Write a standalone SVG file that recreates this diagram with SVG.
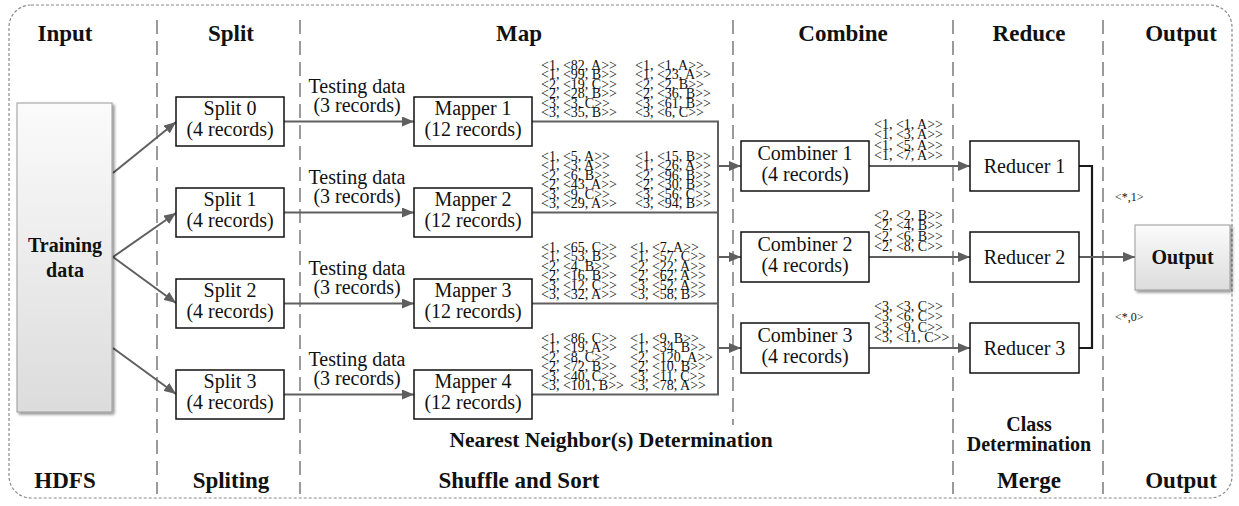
<svg xmlns="http://www.w3.org/2000/svg" width="1239" height="506" viewBox="0 0 1239 506">
  <defs>
    <linearGradient id="gfill" x1="0" y1="0" x2="0" y2="1">
      <stop offset="0" stop-color="#fbfbfb"/>
      <stop offset="1" stop-color="#dcdcdc"/>
    </linearGradient>
    <filter id="shadow" x="-20%" y="-20%" width="140%" height="140%">
      <feGaussianBlur in="SourceAlpha" stdDeviation="1.5"/>
      <feOffset dx="2" dy="2" result="b"/>
      <feComponentTransfer><feFuncA type="linear" slope="0.45"/></feComponentTransfer>
      <feMerge><feMergeNode/><feMergeNode in="SourceGraphic"/></feMerge>
    </filter>
    <marker id="arr" viewBox="0 0 12 10" refX="12" refY="5" markerWidth="12" markerHeight="10" markerUnits="userSpaceOnUse" orient="auto">
      <path d="M0,0 L12,5 L0,10 Z" fill="#5f5f5f"/>
    </marker>
  </defs>
  <style>
    text { font-family: "Liberation Serif", "Times New Roman", serif; fill: #111; }
    .hd { font-size: 23px; font-weight: bold; text-anchor: middle; }
    .sub { font-size: 20px; font-weight: bold; text-anchor: middle; }
    .wide { font-size: 21.5px; }
    .lbl { font-size: 20px; text-anchor: middle; }
    .kv { font-size: 14px; }
    .tiny { font-size: 12px; }
    .box { fill: #fff; stroke: #111; stroke-width: 1.5; }
    .gbox { fill: url(#gfill); stroke: #9a9a9a; stroke-width: 1; filter: url(#shadow); }
    .sep { stroke: #666; stroke-width: 1.3; stroke-dasharray: 14 7; fill: none; }
    .con { stroke: #5f5f5f; stroke-width: 2; fill: none; }
    .arrow { stroke: #5f5f5f; stroke-width: 2; fill: none; marker-end: url(#arr); }
    .dark { stroke: #1a1a1a; stroke-width: 2.2; fill: none; }
  </style>

  <!-- frame -->
  <rect x="9" y="5" width="1223" height="493" rx="22" ry="22" fill="none" stroke="#8a8a8a" stroke-width="1.2" stroke-dasharray="3 2"/>

  <!-- stage separators -->
  <g id="separators">
    <line class="sep" x1="157" y1="20" x2="157" y2="494"/>
    <line class="sep" x1="300" y1="20" x2="300" y2="494"/>
    <line class="sep" x1="733" y1="20" x2="733" y2="425"/>
    <line class="sep" x1="953" y1="20" x2="953" y2="494"/>
    <line class="sep" x1="1103" y1="20" x2="1103" y2="494"/>
  </g>

  <!-- stage titles -->
  <g id="titles">
    <text class="hd" x="65" y="41">Input</text>
    <text class="hd" x="231" y="41">Split</text>
    <text class="hd" x="519" y="41">Map</text>
    <text class="hd" x="843" y="41">Combine</text>
    <text class="hd" x="1029" y="41">Reduce</text>
    <text class="hd" x="1181" y="41">Output</text>
    <text class="hd" x="65" y="488">HDFS</text>
    <text class="hd" x="231" y="488">Spliting</text>
    <text class="hd" x="519" y="488">Shuffle and Sort</text>
    <text class="hd" x="1029" y="488">Merge</text>
    <text class="hd" x="1181" y="488">Output</text>
    <text class="sub wide" x="611" y="447">Nearest Neighbor(s) Determination</text>
    <text class="sub" x="1029" y="431">Class</text>
    <text class="sub" x="1029" y="451">Determination</text>
  </g>

  <!-- connectors -->
  <g id="connectors">
    <line class="arrow" x1="113" y1="173" x2="176" y2="122"/>
    <line class="arrow" x1="113" y1="257" x2="176" y2="213"/>
    <line class="arrow" x1="113" y1="257" x2="176" y2="303"/>
    <line class="arrow" x1="113" y1="348" x2="176" y2="394"/>

    <line class="arrow" x1="284" y1="121.5" x2="414" y2="121.5"/>
    <line class="arrow" x1="284" y1="212.5" x2="414" y2="212.5"/>
    <line class="arrow" x1="284" y1="303.5" x2="414" y2="303.5"/>
    <line class="arrow" x1="284" y1="394.5" x2="414" y2="394.5"/>

    <polyline class="con" points="532,121.5 718,121.5 718,394.5 532,394.5"/>
    <line class="con" x1="532" y1="212.5" x2="718" y2="212.5"/>
    <line class="con" x1="532" y1="303.5" x2="718" y2="303.5"/>
    <line class="arrow" x1="718" y1="166" x2="741" y2="166"/>
    <line class="arrow" x1="718" y1="257" x2="741" y2="257"/>
    <line class="arrow" x1="718" y1="348" x2="741" y2="348"/>

    <line class="arrow" x1="869" y1="166" x2="970" y2="166"/>
    <line class="arrow" x1="869" y1="257" x2="970" y2="257"/>
    <line class="arrow" x1="869" y1="348" x2="970" y2="348"/>

    <polyline class="dark" points="1079,166 1092,166 1092,348 1079,348"/>
    <line class="arrow" x1="1079" y1="257" x2="1135" y2="257"/>
  </g>

  <!-- input -->
  <g id="training-data">
    <rect class="gbox" x="17" y="103" width="95" height="309"/>
    <text class="sub" x="65" y="252">Training</text>
    <text class="sub" x="65" y="277">data</text>
  </g>

  <!-- splits -->
  <g id="split0">
    <rect class="box" x="176" y="97" width="108" height="49"/>
    <text class="lbl" x="230" y="115">Split 0</text>
    <text class="lbl" x="230" y="136">(4 records)</text>
  </g>
  <g id="split1">
    <rect class="box" x="176" y="188" width="108" height="49"/>
    <text class="lbl" x="230" y="206">Split 1</text>
    <text class="lbl" x="230" y="227">(4 records)</text>
  </g>
  <g id="split2">
    <rect class="box" x="176" y="279" width="108" height="49"/>
    <text class="lbl" x="230" y="297">Split 2</text>
    <text class="lbl" x="230" y="318">(4 records)</text>
  </g>
  <g id="split3">
    <rect class="box" x="176" y="370" width="108" height="49"/>
    <text class="lbl" x="230" y="388">Split 3</text>
    <text class="lbl" x="230" y="409">(4 records)</text>
  </g>

  <!-- testing data labels -->
  <g id="testing-labels">
    <text class="lbl" x="357" y="93">Testing data</text>
    <text class="lbl" x="357" y="112">(3 records)</text>
    <text class="lbl" x="357" y="184">Testing data</text>
    <text class="lbl" x="357" y="203">(3 records)</text>
    <text class="lbl" x="357" y="275">Testing data</text>
    <text class="lbl" x="357" y="294">(3 records)</text>
    <text class="lbl" x="357" y="366">Testing data</text>
    <text class="lbl" x="357" y="385">(3 records)</text>
  </g>

  <!-- mappers -->
  <g id="mapper1">
    <rect class="box" x="414" y="97" width="118" height="49"/>
    <text class="lbl" x="473" y="115">Mapper 1</text>
    <text class="lbl" x="473" y="136">(12 records)</text>
  </g>
  <g id="mapper2">
    <rect class="box" x="414" y="188" width="118" height="49"/>
    <text class="lbl" x="473" y="206">Mapper 2</text>
    <text class="lbl" x="473" y="227">(12 records)</text>
  </g>
  <g id="mapper3">
    <rect class="box" x="414" y="279" width="118" height="49"/>
    <text class="lbl" x="473" y="297">Mapper 3</text>
    <text class="lbl" x="473" y="318">(12 records)</text>
  </g>
  <g id="mapper4">
    <rect class="box" x="414" y="370" width="118" height="49"/>
    <text class="lbl" x="473" y="388">Mapper 4</text>
    <text class="lbl" x="473" y="409">(12 records)</text>
  </g>

  <!-- mapper output pairs -->
  <g id="map-out1">
    <text class="kv" x="541" y="70"><tspan x="541" dy="0">&lt;1, &lt;82, A&gt;&gt;</tspan><tspan x="541" dy="9.4">&lt;1, &lt;99, B&gt;&gt;</tspan><tspan x="541" dy="9.4">&lt;2, &lt;19, C&gt;&gt;</tspan><tspan x="541" dy="9.4">&lt;2, &lt;28, B&gt;&gt;</tspan><tspan x="541" dy="9.4">&lt;3, &lt;3, C&gt;&gt;</tspan><tspan x="541" dy="9.4">&lt;3, &lt;35, B&gt;&gt;</tspan></text>
    <text class="kv" x="635" y="70"><tspan x="635" dy="0">&lt;1, &lt;1, A&gt;&gt;</tspan><tspan x="635" dy="9.4">&lt;1, &lt;23, A&gt;&gt;</tspan><tspan x="635" dy="9.4">&lt;2, &lt;2, B&gt;&gt;</tspan><tspan x="635" dy="9.4">&lt;2, &lt;36, B&gt;&gt;</tspan><tspan x="635" dy="9.4">&lt;3, &lt;61, B&gt;&gt;</tspan><tspan x="635" dy="9.4">&lt;3, &lt;6, C&gt;&gt;</tspan></text>
  </g>
  <g id="map-out2">
    <text class="kv" x="541" y="161"><tspan x="541" dy="0">&lt;1, &lt;5, A&gt;&gt;</tspan><tspan x="541" dy="9.4">&lt;1, &lt;3, A&gt;&gt;</tspan><tspan x="541" dy="9.4">&lt;2, &lt;6, B&gt;&gt;</tspan><tspan x="541" dy="9.4">&lt;2, &lt;43, A&gt;&gt;</tspan><tspan x="541" dy="9.4">&lt;3, &lt;9, C&gt;&gt;</tspan><tspan x="541" dy="9.4">&lt;3, &lt;29, A&gt;&gt;</tspan></text>
    <text class="kv" x="635" y="161"><tspan x="635" dy="0">&lt;1, &lt;15, B&gt;&gt;</tspan><tspan x="635" dy="9.4">&lt;1, &lt;26, A&gt;&gt;</tspan><tspan x="635" dy="9.4">&lt;2, &lt;96, B&gt;&gt;</tspan><tspan x="635" dy="9.4">&lt;2, &lt;30, B&gt;&gt;</tspan><tspan x="635" dy="9.4">&lt;3, &lt;56, C&gt;&gt;</tspan><tspan x="635" dy="9.4">&lt;3, &lt;94, B&gt;&gt;</tspan></text>
  </g>
  <g id="map-out3">
    <text class="kv" x="541" y="252"><tspan x="541" dy="0">&lt;1, &lt;65, C&gt;&gt;</tspan><tspan x="541" dy="9.4">&lt;1, &lt;53, B&gt;&gt;</tspan><tspan x="541" dy="9.4">&lt;2, &lt;4, B&gt;&gt;</tspan><tspan x="541" dy="9.4">&lt;2, &lt;16, B&gt;&gt;</tspan><tspan x="541" dy="9.4">&lt;3, &lt;12, C&gt;&gt;</tspan><tspan x="541" dy="9.4">&lt;3, &lt;32, A&gt;&gt;</tspan></text>
    <text class="kv" x="630" y="252"><tspan x="630" dy="0">&lt;1, &lt;7, A&gt;&gt;</tspan><tspan x="630" dy="9.4">&lt;1, &lt;57, C&gt;&gt;</tspan><tspan x="630" dy="9.4">&lt;2, &lt;22, A&gt;&gt;</tspan><tspan x="630" dy="9.4">&lt;2, &lt;62, A&gt;&gt;</tspan><tspan x="630" dy="9.4">&lt;3, &lt;52, A&gt;&gt;</tspan><tspan x="630" dy="9.4">&lt;3, &lt;58, B&gt;&gt;</tspan></text>
  </g>
  <g id="map-out4">
    <text class="kv" x="541" y="343"><tspan x="541" dy="0">&lt;1, &lt;86, C&gt;&gt;</tspan><tspan x="541" dy="9.4">&lt;1, &lt;19, A&gt;&gt;</tspan><tspan x="541" dy="9.4">&lt;2, &lt;8, C&gt;&gt;</tspan><tspan x="541" dy="9.4">&lt;2, &lt;72, B&gt;&gt;</tspan><tspan x="541" dy="9.4">&lt;3, &lt;40, C&gt;&gt;</tspan><tspan x="541" dy="9.4">&lt;3, &lt;101, B&gt;&gt;</tspan></text>
    <text class="kv" x="630" y="343"><tspan x="630" dy="0">&lt;1, &lt;9, B&gt;&gt;</tspan><tspan x="630" dy="9.4">&lt;1, &lt;34, B&gt;&gt;</tspan><tspan x="630" dy="9.4">&lt;2, &lt;120, A&gt;&gt;</tspan><tspan x="630" dy="9.4">&lt;2, &lt;10, B&gt;&gt;</tspan><tspan x="630" dy="9.4">&lt;3, &lt;11, C&gt;&gt;</tspan><tspan x="630" dy="9.4">&lt;3, &lt;78, A&gt;&gt;</tspan></text>
  </g>

  <!-- combiners -->
  <g id="combiner1">
    <rect class="box" x="741" y="141" width="128" height="50"/>
    <text class="lbl" x="805" y="160">Combiner 1</text>
    <text class="lbl" x="805" y="181">(4 records)</text>
  </g>
  <g id="combiner2">
    <rect class="box" x="741" y="232" width="128" height="50"/>
    <text class="lbl" x="805" y="251">Combiner 2</text>
    <text class="lbl" x="805" y="272">(4 records)</text>
  </g>
  <g id="combiner3">
    <rect class="box" x="741" y="323" width="128" height="50"/>
    <text class="lbl" x="805" y="342">Combiner 3</text>
    <text class="lbl" x="805" y="363">(4 records)</text>
  </g>

  <!-- combiner output pairs -->
  <g id="comb-out">
    <text class="kv" x="874" y="129"><tspan x="874" dy="0">&lt;1, &lt;1, A&gt;&gt;</tspan><tspan x="874" dy="10.3">&lt;1, &lt;3, A&gt;&gt;</tspan><tspan x="874" dy="10.3">&lt;1, &lt;5, A&gt;&gt;</tspan><tspan x="874" dy="10.3">&lt;1, &lt;7, A&gt;&gt;</tspan></text>
    <text class="kv" x="874" y="220"><tspan x="874" dy="0">&lt;2, &lt;2, B&gt;&gt;</tspan><tspan x="874" dy="10.3">&lt;2, &lt;4, B&gt;&gt;</tspan><tspan x="874" dy="10.3">&lt;2, &lt;6, B&gt;&gt;</tspan><tspan x="874" dy="10.3">&lt;2, &lt;8, C&gt;&gt;</tspan></text>
    <text class="kv" x="874" y="311"><tspan x="874" dy="0">&lt;3, &lt;3, C&gt;&gt;</tspan><tspan x="874" dy="10.3">&lt;3, &lt;6, C&gt;&gt;</tspan><tspan x="874" dy="10.3">&lt;3, &lt;9, C&gt;&gt;</tspan><tspan x="874" dy="10.3">&lt;3, &lt;11, C&gt;&gt;</tspan></text>
  </g>

  <!-- reducers -->
  <g id="reducer1">
    <rect class="box" x="970" y="141" width="109" height="50"/>
    <text class="lbl" x="1024.5" y="173">Reducer 1</text>
  </g>
  <g id="reducer2">
    <rect class="box" x="970" y="232" width="109" height="50"/>
    <text class="lbl" x="1024.5" y="264">Reducer 2</text>
  </g>
  <g id="reducer3">
    <rect class="box" x="970" y="323" width="109" height="50"/>
    <text class="lbl" x="1024.5" y="355">Reducer 3</text>
  </g>

  <!-- class votes -->
  <g id="votes">
    <text class="tiny" x="1115" y="201">&lt;*,1&gt;</text>
    <text class="tiny" x="1115" y="321">&lt;*,0&gt;</text>
  </g>

  <!-- output -->
  <g id="output">
    <rect class="gbox" x="1135" y="225" width="95" height="65"/>
    <text class="sub" x="1182.5" y="264">Output</text>
  </g>
</svg>
